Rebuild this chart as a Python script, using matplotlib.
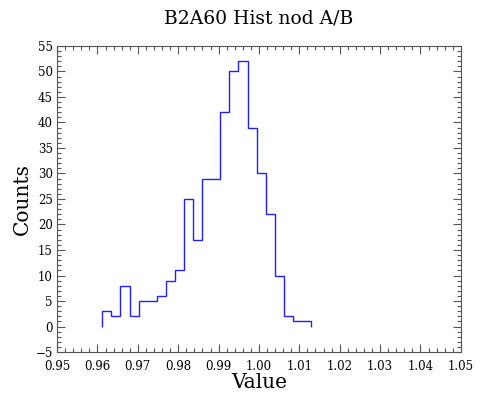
import numpy as np
import matplotlib
matplotlib.use("Agg")
import matplotlib.pyplot as plt
from matplotlib.ticker import MultipleLocator, FormatStrFormatter

# ───────── Data ─────────────────────────────────────────────
bin_start = 0.9612
bin_end = 1.0129
counts = [3, 2, 8, 2, 5, 5, 6, 9, 11, 25, 17, 29, 29,
          42, 50, 52, 39, 30, 22, 10, 2, 1, 1]

x_ticks = [0.95, 0.96, 0.97, 0.98, 0.99, 1.00, 1.01, 1.02, 1.03, 1.04, 1.05]
y_ticks = list(range(-5, 56, 5))

# ───────── Plot Settings ────────────────────────────────────
plt.rcParams['font.family'] = ['DejaVu Serif']
TICK_FONTSIZE = 8.5
LABEL_FONTSIZE = 14.5
TITLE_FONTSIZE = 13.5

edges = np.linspace(bin_start, bin_end, len(counts) + 1)

fig = plt.figure(figsize=(4.8, 3.96), dpi=100)
ax = fig.add_axes([0.119, 0.111, 0.841, 0.773])

ax.stairs(counts, edges, baseline=0, color='#2020ff', lw=1.0)

ax.set_xlim(0.95, 1.05)
ax.set_ylim(-5, 55)
ax.set_xticks(x_ticks)
ax.set_yticks(y_ticks)
ax.xaxis.set_major_formatter(FormatStrFormatter('%.2f'))
ax.xaxis.set_minor_locator(MultipleLocator(0.002))
ax.yaxis.set_minor_locator(MultipleLocator(1))

ax.tick_params(which='both', direction='in', top=True, right=True,
               labelsize=TICK_FONTSIZE, color='#555555', width=0.8)
ax.tick_params(which='major', length=6)
ax.tick_params(axis='x', which='major', pad=6)
ax.tick_params(axis='y', which='major', pad=3)
ax.tick_params(which='minor', length=3)
for s in ax.spines.values():
    s.set_color('#555555')
    s.set_linewidth(0.8)

ax.set_xlabel('Value', fontsize=LABEL_FONTSIZE, labelpad=0)
ax.set_ylabel('Counts', fontsize=LABEL_FONTSIZE, labelpad=3)
ax.set_title('B2A60 Hist nod A/B', fontsize=TITLE_FONTSIZE, pad=16)

fig.savefig('out.png', dpi=100)
